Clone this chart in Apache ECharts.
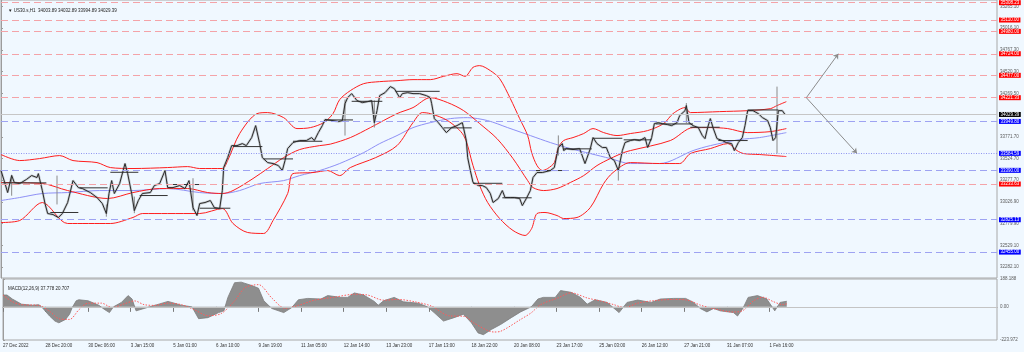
<!DOCTYPE html>
<html>
<head>
<meta charset="utf-8">
<script src="https://cdn.jsdelivr.net/npm/echarts@6/dist/echarts.min.js"></script>
<style>
  html, body { margin: 0; padding: 0; background: #f0f8ff; }
  #chart { width: 1024px; height: 352px; }
</style>
</head>
<body>
<div id="chart"></div>
<script>
// US30 H1 - bollinger, MA, levels, MACD

// x is the bar index (1 bar = 1 hour)
const dateLabels = ['27 Dec 2022', '28 Dec 20:00', '30 Dec 06:00', '3 Jan 15:00', '5 Jan 01:00',
  '6 Jan 10:00', '9 Jan 19:00', '11 Jan 05:00', '12 Jan 14:00', '13 Jan 23:00', '17 Jan 13:00',
  '18 Jan 22:00', '20 Jan 08:00', '23 Jan 17:00', '25 Jan 03:00', '26 Jan 12:00', '27 Jan 21:00',
  '31 Jan 07:00', '1 Feb 16:00'];
const barsPerLabel = 32;

const priceTicks = [35265.10, 35016.10, 34767.30, 34520.30, 34269.50, 33771.70, 33524.70,
  33277.70, 33026.90, 32779.90, 32529.10, 32282.10];
const macdTicks = [188.188, 0, -223.972];
const macdTickLabels = ['188.188', '0.00', '-223.972'];

const redLevels = [35308.23, 35110.00, 34980.00, 34724.00, 34477.00, 34221.33, 33233.63];
const blueLevels = [33949.80, 33390.00, 32825.13, 32455.00];
const dottedLevels = [33584.59];
const lastPrice = 34029.39;

// [bar, close]
const closes = [
  [0,33388],[3,33239],[5,33136],[8,33331],[10,33251],[14,33239],[19,33285],[23,33331],[27,33308],[28,33353],
  [31,33159],[33,33010],[35,32896],[39,32885],[43,32850],[46,32896],[50,33022],[54,33273],[58,33193],[61,33182],
  [67,33136],[72,33079],[76,33010],[79,32896],[81,33125],[83,33273],[85,33125],[89,33239],[93,33468],[95,33353],
  [98,33125],[100,32930],[103,33045],[106,33125],[112,33136],[115,33216],[119,33239],[123,33388],[125,33193],[129,33193],
  [134,33216],[138,33182],[141,33273],[144,32964],[147,32873],[149,33010],[153,33022],[157,33045],[160,32964],[164,32953],
  [166,33159],[167,33422],[170,33536],[173,33673],[177,33673],[181,33696],[184,33673],[188,33765],[191,33902],[194,33696],
  [196,33536],[200,33479],[204,33468],[208,33445],[211,33388],[213,33502],[215,33639],[219,33708],[224,33731],[229,33731],
  [233,33765],[235,33731],[238,33822],[241,33902],[243,33971],[249,33959],[253,33948],[256,33959],[258,34153],[260,34222],
  [263,34268],[267,34188],[271,34165],[275,34176],[278,34188],[280,33936],[282,34073],[284,34245],[288,34279],[292,34348],
  [295,34325],[299,34222],[301,34268],[305,34279],[309,34268],[314,34268],[319,34245],[322,34222],[323,34153],[325,33982],
  [328,33936],[331,33879],[334,33822],[338,33879],[342,33902],[346,33936],[347,33868],[349,33731],[350,33536],[352,33388],
  [354,33251],[358,33216],[361,33216],[364,33193],[367,33125],[369,33022],[373,33068],[376,33159],[378,33079],[382,33079],
  [385,33079],[389,33068],[391,32987],[394,33068],[397,33159],[399,33308],[402,33365],[406,33365],[412,33388],[415,33422],
  [418,33651],[421,33696],[422,33616],[424,33639],[429,33628],[434,33639],[438,33468],[442,33639],[444,33765],[447,33696],
  [451,33651],[454,33651],[457,33536],[460,33502],[463,33388],[466,33616],[468,33708],[472,33731],[475,33742],[479,33731],
  [483,33765],[485,33651],[488,33765],[490,33925],[493,33936],[496,33925],[500,33913],[503,33902],[507,33936],[509,34016],
  [513,34073],[514,34131],[516,33936],[519,33902],[523,33879],[526,33788],[528,33753],[530,33879],[532,33982],[534,33879],
  [537,33753],[541,33731],[544,33708],[548,33696],[550,33616],[553,33708],[556,33765],[558,33902],[560,34073],[564,34073],
  [568,34039],[571,33994],[575,33959],[577,33879],[579,33731],[581,33765],[583,34073],[586,34073],[588,34029.39]
];

// [bar, low, high]
const wicks = [[8,33100,33340],[42,33000,33330],[79,32860,33000],[100,32900,33090],[144,32930,33300],
  [258,33788,34200],[280,33880,34190],[418,33559,33790],[463,33273,33420],[514,33930,34160],[582,33582,34348]];

// daily level segments [fromBar, toBar, price]
const dayLevels = [
  [1,34,33247],[37,58,32908],[59,80,33190],[82,103,33368],[104,125,33102],[125,149,33228],
  [149,172,32957],[174,196,33662],[197,219,33521],[219,241,33723],[243,264,33967],[263,286,34180],
  [296,329,34294],[332,353,33876],[354,376,33242],[376,398,33076],[398,421,33388],[422,443,33636],
  [444,466,33757],[467,488,33739],[491,519,33921],[517,539,33883],[538,560,33731],[560,583,34081]
];

const bbUpper = [
  [0,33571],[14,33502],[29,33525],[44,33559],[54,33502],[72,33479],[82,33422],[99,33411],[125,33422],[140,33433],
  [149,33411],[166,33411],[170,33502],[179,33811],[192,34039],[200,34051],[212,33993],[222,33868],[232,33879],[242,33936],
  [249,34039],[254,34199],[262,34302],[272,34382],[284,34405],[297,34416],[309,34428],[322,34428],[332,34466],[342,34496],
  [348,34466],[354,34568],[359,34588],[367,34531],[374,34439],[382,34211],[389,33982],[395,33788],[398,33593],[402,33445],
  [406,33388],[410,33411],[415,33479],[418,33651],[422,33731],[429,33765],[437,33811],[444,33868],[452,33822],[462,33788],
  [472,33811],[485,33845],[497,33925],[504,34039],[513,34108],[517,34051],[539,34062],[560,34073],[577,34096],[582,34131],
  [589,34176]
];
const bbMiddle = [
  [0,33251],[31,33239],[50,33159],[80,33068],[99,33136],[119,33182],[140,33182],[155,33136],[166,33125],[174,33159],
  [189,33296],[200,33411],[212,33536],[224,33628],[239,33673],[247,33690],[262,33765],[277,33879],[297,34039],[309,34108],
  [322,34222],[335,34165],[347,34073],[359,33925],[372,33753],[384,33525],[395,33273],[399,33193],[407,33159],[417,33182],
  [427,33251],[437,33330],[447,33445],[457,33525],[467,33593],[472,33616],[502,33731],[519,33879],[532,33879],[545,33868],
  [560,33822],[577,33833],[589,33868]
];
const bbLower = [
  [0,32793],[14,32816],[31,33022],[50,32782],[82,32782],[99,32851],[106,32896],[125,32896],[149,32896],[166,32953],
  [174,32782],[185,32679],[197,32668],[204,32816],[215,33125],[219,33353],[234,33365],[245,33388],[254,33330],[262,33422],
  [281,33536],[297,33673],[309,33936],[316,34051],[322,34039],[335,33959],[347,33788],[354,33445],[359,33216],[365,33022],
  [374,32839],[384,32702],[393,32645],[398,32725],[402,32896],[408,32908],[417,32873],[422,32839],[432,32851],[442,32965],
  [452,33239],[459,33365],[472,33479],[494,33468],[509,33468],[517,33582],[532,33639],[545,33696],[552,33616],[557,33582],
  [569,33571],[589,33548]
];
const maLine = [
  [0,33045],[14,33079],[31,33125],[50,33136],[74,33159],[99,33159],[125,33182],[149,33136],[166,33125],[179,33159],
  [194,33239],[212,33273],[224,33330],[239,33388],[254,33468],[272,33593],[284,33696],[297,33788],[309,33879],[322,33936],
  [337,33982],[350,33993],[365,33959],[380,33879],[397,33788],[412,33708],[427,33639],[442,33582],[457,33525],[472,33468],
  [494,33468],[519,33616],[532,33673],[554,33742],[569,33765],[589,33822]
];

// projection arrows: start, up target, down target  [bar, price]
const arrowStart = [604, 34221.33];
const arrowUp = [628, 34724.00];
const arrowDown = [642, 33584.59];

const macdHist = [
  [0,80],[3,80],[7,53],[14,18],[22,11],[27,14],[29,0],[35,-62],[39,-96],[42,-108],[47,-85],[50,-50],[52,-5],[55,41],
  [57,48],[64,41],[72,11],[76,-16],[80,-39],[83,0],[89,30],[94,76],[97,53],[100,-27],[106,-11],[117,18],[124,37],
  [134,11],[142,0],[147,-80],[154,-73],[162,-39],[166,-27],[169,64],[174,163],[179,167],[187,144],[192,126],[196,41],
  [202,-11],[211,-39],[217,-5],[222,48],[229,57],[239,53],[244,76],[254,64],[259,64],[264,94],[271,80],[279,37],
  [282,11],[286,41],[294,64],[301,34],[312,25],[319,0],[324,-39],[331,-96],[339,-73],[346,-50],[352,-108],[357,-176],
  [361,-188],[367,-153],[374,-119],[382,-73],[389,-34],[397,0],[402,53],[406,64],[415,64],[419,110],[427,98],[434,64],
  [439,18],[445,48],[454,30],[463,-39],[469,30],[477,46],[487,30],[494,53],[504,57],[513,57],[519,30],[524,-11],
  [529,-34],[534,-11],[539,-27],[549,-39],[552,-62],[556,-11],[560,64],[567,76],[574,53],[580,-27],[584,30],[589,37.778]
];
const macdSignal = [
  [0,80],[7,35],[14,15],[27,10],[35,-30],[42,-80],[50,-85],[57,-20],[64,25],[74,25],[82,-5],[91,20],[99,40],[106,15],
  [114,10],[124,25],[134,15],[144,-20],[154,-60],[164,-45],[174,40],[182,130],[192,150],[202,60],[212,-10],[222,10],
  [234,45],[249,65],[264,85],[274,80],[286,45],[297,50],[309,35],[322,5],[335,-60],[347,-65],[354,-110],[369,-170],
  [374,-165],[389,-85],[397,-40],[404,15],[417,60],[427,95],[439,60],[449,40],[459,15],[467,-5],[477,25],[489,42],
  [504,50],[514,46],[524,12],[534,-12],[549,-35],[556,-25],[564,40],[571,65],[579,35],[586,15],[589,20.707]
];

const FONT = 'Liberation Sans';
const AXIS_GRAY = '#9c9c9c';
const RED_DASH = '#f4a3a8';
const BLUE_DASH = '#9ea3f2';

function levelLine(v, lineColor, boxColor, type) {
  return {
    yAxis: v,
    lineStyle: { color: lineColor, type: type, width: 1 },
    label: {
      show: true, position: 'end', distance: 2,
      formatter: v.toFixed(2),
      backgroundColor: boxColor, color: '#ffffff',
      fontSize: 4.5, fontFamily: FONT, lineHeight: 5, padding: [0, 1.5, 0, 1.5]
    }
  };
}

const levelData = []
  .concat(redLevels.map(v => levelLine(v, RED_DASH, '#ff0000', [7, 4])))
  .concat(blueLevels.map(v => levelLine(v, BLUE_DASH, '#0000ff', [7, 4])))
  .concat(dottedLevels.map(v => levelLine(v, '#8f95f0', '#0000ff', [1, 1.5])))
  .concat([levelLine(lastPrice, '#c6c6c6', '#000000', 'solid')]);

const chart = echarts.init(document.getElementById('chart'));

const option = {
  animation: false,
  backgroundColor: '#f0f8ff',
  title: [
    {
      text: '\u25BC US30.s,H1  34003.89 34032.89 33994.89 34029.39',
      left: 3, top: 3,
      textStyle: { fontSize: 4.5, fontWeight: 'normal', color: '#222', fontFamily: FONT }
    },
    {
      text: 'MACD(12,26,9) 37.778 20.707',
      left: 3, top: 281,
      textStyle: { fontSize: 4.5, fontWeight: 'normal', color: '#222', fontFamily: FONT }
    }
  ],
  grid: [
    { left: 1, right: 27, top: 0, height: 278, show: true, borderColor: '#a8a8a8', borderWidth: 1 },
    { left: 1, right: 27, top: 279, height: 61, show: true, borderColor: '#a8a8a8', borderWidth: 1 }
  ],
  xAxis: [
    { type: 'value', gridIndex: 0, min: 0, max: 747, show: false },
    {
      type: 'value', gridIndex: 1, min: 0, max: 747,
      axisLine: { show: true, lineStyle: { color: AXIS_GRAY } },
      axisTick: {
        show: true, length: 5, lineStyle: { color: '#7a7a7a' },
        customValues: dateLabels.map((d, i) => i * barsPerLabel)
      },
      axisLabel: {
        customValues: dateLabels.map((d, i) => i * barsPerLabel),
        formatter: v => dateLabels[Math.round(v / barsPerLabel)],
        align: 'left', margin: 3, fontSize: 4.5, color: '#333', fontFamily: FONT
      },
      splitLine: { show: false }
    }
  ],
  yAxis: [
    {
      type: 'value', gridIndex: 0, position: 'right', min: 32158.6, max: 35338.9,
      axisLine: { show: true, lineStyle: { color: AXIS_GRAY } },
      axisTick: { show: true, length: 2, lineStyle: { color: AXIS_GRAY }, customValues: priceTicks },
      axisLabel: {
        customValues: priceTicks, formatter: v => v.toFixed(2),
        margin: 3, fontSize: 4.5, color: '#5a5a5a', fontFamily: FONT
      },
      splitLine: { show: false }
    },
    {
      type: 'value', gridIndex: 1, position: 'right', min: -223.972, max: 188.188,
      axisLine: { show: true, lineStyle: { color: AXIS_GRAY } },
      axisTick: { show: true, length: 2, lineStyle: { color: AXIS_GRAY }, customValues: macdTicks },
      axisLabel: {
        customValues: macdTicks, formatter: v => macdTickLabels[macdTicks.indexOf(v)],
        margin: 3, fontSize: 4.5, color: '#5a5a5a', fontFamily: FONT
      },
      splitLine: { show: false }
    }
  ],
  series: [
    {
      name: 'levels', type: 'line', xAxisIndex: 0, yAxisIndex: 0, z: 1,
      data: [[0, lastPrice]], symbol: 'none', lineStyle: { width: 0 },
      markLine: { silent: true, symbol: ['none', 'none'], data: levelData }
    },
    {
      name: 'MA', type: 'line', xAxisIndex: 0, yAxisIndex: 0, z: 2,
      data: maLine, symbol: 'none', smooth: 0.3,
      lineStyle: { color: '#8e90f6', width: 1 }
    },
    {
      name: 'BB upper', type: 'line', xAxisIndex: 0, yAxisIndex: 0, z: 2,
      data: bbUpper, symbol: 'none', smooth: 0.3,
      lineStyle: { color: '#ff1e1e', width: 1 }
    },
    {
      name: 'BB middle', type: 'line', xAxisIndex: 0, yAxisIndex: 0, z: 2,
      data: bbMiddle, symbol: 'none', smooth: 0.3,
      lineStyle: { color: '#ff1e1e', width: 1 }
    },
    {
      name: 'BB lower', type: 'line', xAxisIndex: 0, yAxisIndex: 0, z: 2,
      data: bbLower, symbol: 'none', smooth: 0.3,
      lineStyle: { color: '#ff1e1e', width: 1 }
    },
    {
      name: 'wicks', type: 'custom', xAxisIndex: 0, yAxisIndex: 0, z: 3,
      data: wicks, encode: { x: 0, y: [1, 2] },
      renderItem: (params, api) => {
        const a = api.coord([api.value(0), api.value(1)]);
        const b = api.coord([api.value(0), api.value(2)]);
        return { type: 'line', shape: { x1: a[0], y1: a[1], x2: b[0], y2: b[1] },
          style: { stroke: '#8a8a8a', lineWidth: 1 } };
      }
    },
    {
      name: 'price shade', type: 'line', xAxisIndex: 0, yAxisIndex: 0, z: 3,
      data: closes, symbol: 'none',
      lineStyle: { color: 'rgba(120,120,120,0.35)', width: 2.4 },
      markLine: {
        silent: true, symbol: ['none', 'arrow'], symbolSize: 5,
        lineStyle: { color: '#8c8c8c', type: 'solid', width: 1 },
        label: { show: false },
        data: [
          [{ coord: arrowStart }, { coord: arrowUp }],
          [{ coord: arrowStart }, { coord: arrowDown }]
        ]
      }
    },
    {
      name: 'price', type: 'line', xAxisIndex: 0, yAxisIndex: 0, z: 4,
      data: closes, symbol: 'none',
      lineStyle: { color: '#2a2a2a', width: 1 }
    },
    {
      name: 'day levels', type: 'custom', xAxisIndex: 0, yAxisIndex: 0, z: 4,
      data: dayLevels, encode: { x: [0, 1], y: 2 },
      renderItem: (params, api) => {
        const a = api.coord([api.value(0), api.value(2)]);
        const b = api.coord([api.value(1), api.value(2)]);
        return { type: 'line', shape: { x1: a[0], y1: a[1], x2: b[0], y2: b[1] },
          style: { stroke: '#333333', lineWidth: 1 } };
      }
    },
    {
      name: 'MACD', type: 'line', xAxisIndex: 1, yAxisIndex: 1, z: 2,
      data: macdHist, symbol: 'none',
      lineStyle: { color: '#7c7c7c', width: 0.8 },
      areaStyle: { color: '#8e8e8e', opacity: 1 },
      markLine: {
        silent: true, symbol: ['none', 'none'], label: { show: false },
        lineStyle: { color: '#c4c4c4', type: 'solid', width: 1 },
        data: [{ yAxis: 0 }]
      }
    },
    {
      name: 'Signal', type: 'line', xAxisIndex: 1, yAxisIndex: 1, z: 3,
      data: macdSignal, symbol: 'none', smooth: 0.3,
      lineStyle: { color: '#ff5a5a', width: 1, type: [1.5, 1.5] }
    }
  ]
};

chart.setOption(option);
</script>
</body>
</html>
